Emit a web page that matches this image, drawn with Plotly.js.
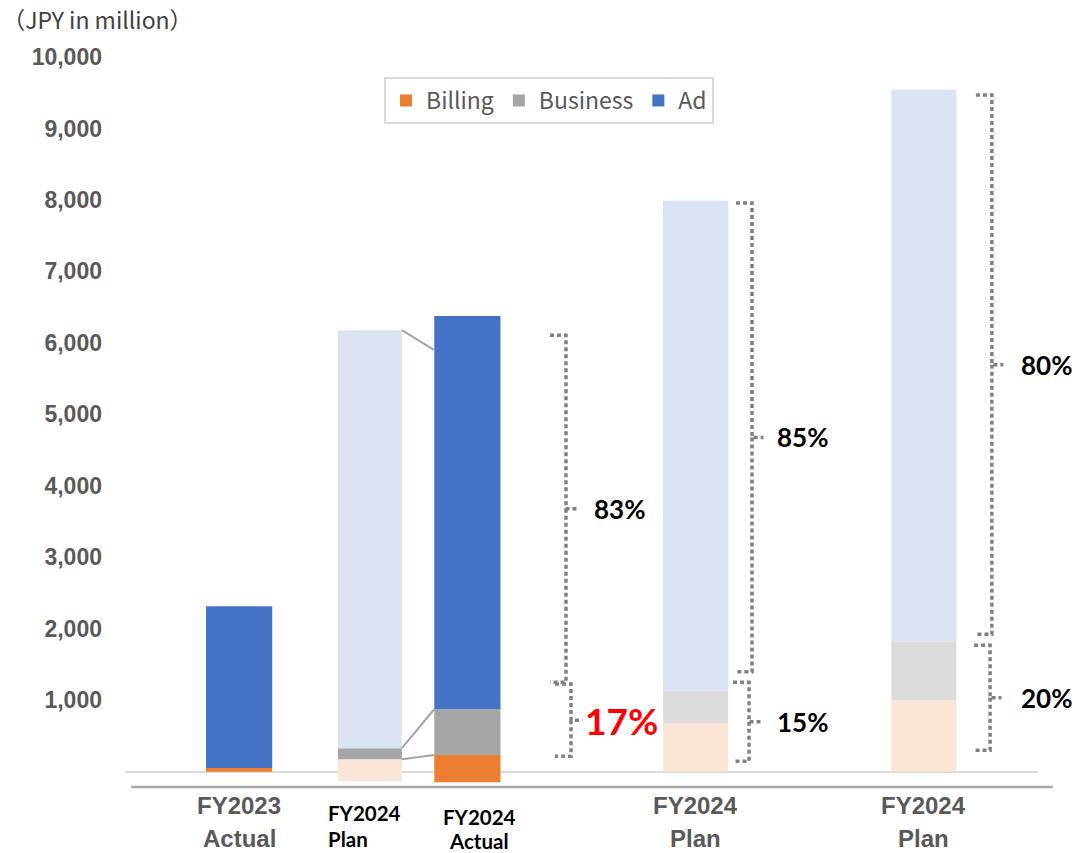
<!DOCTYPE html>
<html>
<head>
<meta charset="utf-8">
<script src="https://cdn.plot.ly/plotly-3.0.1.min.js"></script>
<style>html,body{margin:0;padding:0;background:#fff;}#chart{width:1076px;height:853px;}</style>
</head>
<body>
<div id="chart"></div>
<script>
// ---- data ----
const labelTop = ['FY2023', 'FY2024', 'FY2024', 'FY2024', 'FY2024'];
const labelBottom = ['Actual', 'Plan', 'Actual', 'Plan', 'Plan'];
const seriesNames = ['Billing', 'Business', 'Ad'];
const billing = [50, 308, 381, 680, 1000];
const business = [0, 154, 640, 460, 825];
const ad = [2265, 5850, 5502, 6850, 7715];
const barBase = [0, -134, -148, 0, 0];
const yTickVals = [1000, 2000, 3000, 4000, 5000, 6000, 7000, 8000, 9000, 10000];
const yTickText = ['1,000', '2,000', '3,000', '4,000', '5,000', '6,000', '7,000', '8,000', '9,000', '10,000'];
const shareLabels = ['83%', '17%', '85%', '15%', '80%', '20%'];
const braceTop = [6108, 1225, 7956, 1251, 9467, 1769];
const braceBottom = [1251, 215, 1396, 146, 1923, 300];
const connectorFromTop = 6178;
const connectorToTop = 5898;

// ---- layout / style ----
const xPos = [0, 0.573, 1, 2, 3];
const widths = [0.29, 0.28, 0.29, 0.285, 0.285];
const colBilling = ['#ED7D31', '#FBE5D6', '#ED7D31', '#FBE5D6', '#FBE5D6'];
const colBusiness = ['#A5A5A5', '#A5A5A5', '#A5A5A5', '#DBDBDB', '#DBDBDB'];
const colAd = ['#4472C4', '#DAE3F3', '#4472C4', '#DAE3F3', '#DAE3F3'];

const base2 = barBase.map((b, i) => b + billing[i]);
const base3 = base2.map((b, i) => b + business[i]);

function barTrace(name, vals, base, colors) {
  return {
    type: 'bar', name: name, x: xPos, y: vals, base: base, width: widths,
    marker: {color: colors, line: {width: 0}}, hoverinfo: 'skip'
  };
}
const traces = [
  barTrace(seriesNames[0], billing, barBase, colBilling),
  barTrace(seriesNames[1], business, base2, colBusiness),
  barTrace(seriesNames[2], ad, base3, colAd)
];

const braceX = [1.432, 1.454, 2.247, 2.234, 3.298, 3.290];
const labelX = [1.546, 1.507, 2.348, 2.348, 3.417, 3.417];
const hook = 0.07, notch = 0.05;

const shapes = [];
const annotations = [];
for (let i = 0; i < shareLabels.length; i++) {
  const x = braceX[i], t = braceTop[i], b = braceBottom[i], m = (t + b) / 2;
  shapes.push({
    type: 'path', xref: 'x', yref: 'y',
    path: `M${x - hook},${t} L${x},${t} L${x},${m} L${x + notch},${m} M${x},${m} L${x},${b} L${x - hook},${b}`,
    line: {color: '#808080', width: 3.5, dash: '4px,3px'}
  });
  const red = i === 1;
  annotations.push({
    x: labelX[i], y: m, xref: 'x', yref: 'y', xanchor: 'left', yanchor: 'middle',
    text: shareLabels[i], showarrow: false,
    font: {family: 'Lato, sans-serif', size: red ? 37 : 26, weight: 'bold', color: red ? '#FF0000' : '#000000'}
  });
}

// connector lines between plan and actual bars
const planR = xPos[1] + widths[1] / 2, actL = xPos[2] - widths[2] / 2;
const conn = [[connectorFromTop, connectorToTop], [base3[1], base3[2]], [base2[1], base2[2]]];
conn.forEach(c => shapes.push({
  type: 'line', xref: 'x', yref: 'y', x0: planR, x1: actL, y0: c[0], y1: c[1],
  line: {color: '#A5A5A5', width: 2}
}));

// bottom axis line
shapes.push({type: 'line', xref: 'paper', yref: 'paper', x0: 0.0066, x1: 1.0164, y0: 0, y1: 0,
  line: {color: '#A6A6A6', width: 2.5}});

// x category labels
const grayFont = {family: 'Liberation Sans, Arial, sans-serif', size: 24, weight: 'bold', color: '#595959'};
const blackFont = {family: 'Lato, sans-serif', size: 20.5, weight: 'bold', color: '#000000'};
const labelCfg = [
  {x: xPos[0], anchor: 'center', y1: -0.0247, y2: -0.0705, font: grayFont},
  {x: 0.3806, anchor: 'left', y1: -0.0356, y2: -0.0712, font: blackFont},
  {x: 1.051, anchor: 'center', y1: -0.0411, y2: -0.0745, font: blackFont},
  {x: xPos[3], anchor: 'center', y1: -0.0247, y2: -0.0705, font: grayFont},
  {x: xPos[4], anchor: 'center', y1: -0.0247, y2: -0.0705, font: grayFont}
];
labelCfg.forEach((c, i) => {
  annotations.push({x: c.x, y: c.y1, xref: 'x', yref: 'paper', xanchor: c.anchor, yanchor: 'middle',
    text: labelTop[i], showarrow: false, font: c.font});
  annotations.push({x: c.x, y: c.y2, xref: 'x', yref: 'paper', xanchor: c.anchor, yanchor: 'middle',
    text: labelBottom[i], showarrow: false, font: c.font});
});

const layout = {
  width: 1076, height: 853,
  margin: {l: 125, r: 38, t: 57, b: 66},
  paper_bgcolor: '#ffffff', plot_bgcolor: '#ffffff',
  barmode: 'overlay',
  showlegend: true,
  title: {
    text: '（JPY in million）', xref: 'container', yref: 'container', x: 0.002, xanchor: 'left',
    y: 0.976, yanchor: 'middle',
    font: {family: 'Noto Sans CJK JP, sans-serif', size: 23, color: '#404040'}
  },
  legend: {
    orientation: 'h', x: 0.2837, y: 0.9726, xanchor: 'left', yanchor: 'top',
    bgcolor: '#ffffff', bordercolor: '#D9D9D9', borderwidth: 2,
    font: {family: 'Noto Sans CJK JP, sans-serif', size: 23, color: '#595959'},
    traceorder: 'normal', itemclick: false, itemwidth: 30
  },
  xaxis: {
    range: [-0.5, 3.5], showgrid: false, zeroline: false, showline: false,
    showticklabels: false, ticks: '', fixedrange: true
  },
  yaxis: {
    range: [-215, 10000], tickvals: yTickVals, ticktext: yTickText,
    showgrid: false, zeroline: true, zerolinecolor: '#D9D9D9', zerolinewidth: 2,
    showline: false, ticks: '', ticklabelstandoff: 22,
    tickfont: {family: 'Liberation Sans, Arial, sans-serif', size: 23, weight: 'bold', color: '#595959'},
    fixedrange: true
  },
  shapes: shapes,
  annotations: annotations
};

Plotly.newPlot('chart', traces, layout, {displayModeBar: false, staticPlot: true});
</script>
</body>
</html>
